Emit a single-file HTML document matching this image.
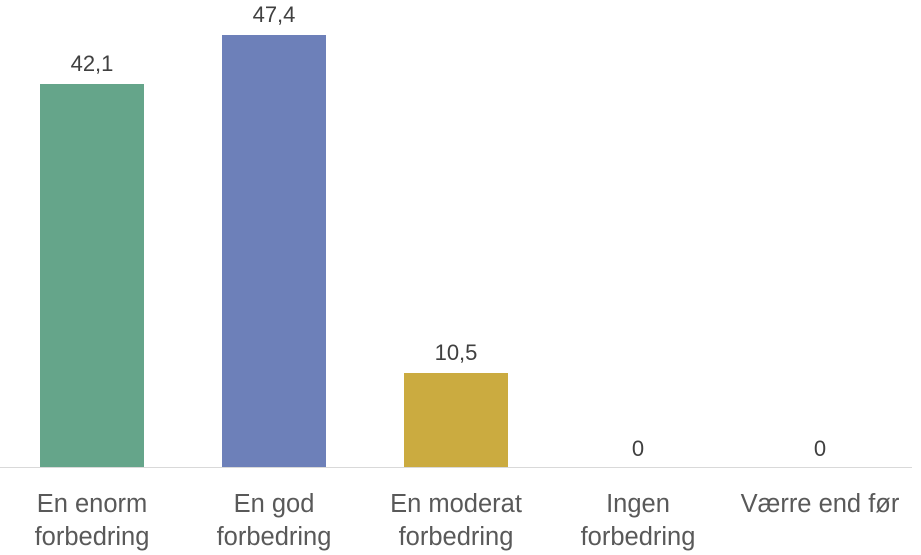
<!DOCTYPE html>
<html><head><style>
body{margin:0;background:#fff;width:921px;height:555px;overflow:hidden;position:relative;font-family:"Liberation Sans",sans-serif;color:#595959}
.bar{position:absolute;width:104px}
.v{position:absolute;width:160px;text-align:center;font-size:22px;color:#404040}
.c{position:absolute;width:182px;text-align:center;font-size:25.5px;line-height:33px;top:488px}
</style></head><body>
<div style="position:absolute;left:0;top:467px;width:912px;height:1px;background:#d9d9d9"></div>
<div class="bar" style="left:40px;top:84px;height:383px;background:#65a58a"></div>
<div class="bar" style="left:222px;top:35px;height:432px;background:#6d80b9"></div>
<div class="bar" style="left:404px;top:373px;height:94px;background:#cbab40"></div>
<div class="v" style="left:12px;top:51px">42,1</div>
<div class="v" style="left:194px;top:2px">47,4</div>
<div class="v" style="left:376px;top:340px">10,5</div>
<div class="v" style="left:558px;top:436px">0</div>
<div class="v" style="left:740px;top:436px">0</div>
<div class="c" style="left:1px">En enorm<br>forbedring</div>
<div class="c" style="left:183px">En god<br>forbedring</div>
<div class="c" style="left:365px">En moderat<br>forbedring</div>
<div class="c" style="left:547px">Ingen<br>forbedring</div>
<div class="c" style="left:719px;width:202px">Værre end før</div>
</body></html>
